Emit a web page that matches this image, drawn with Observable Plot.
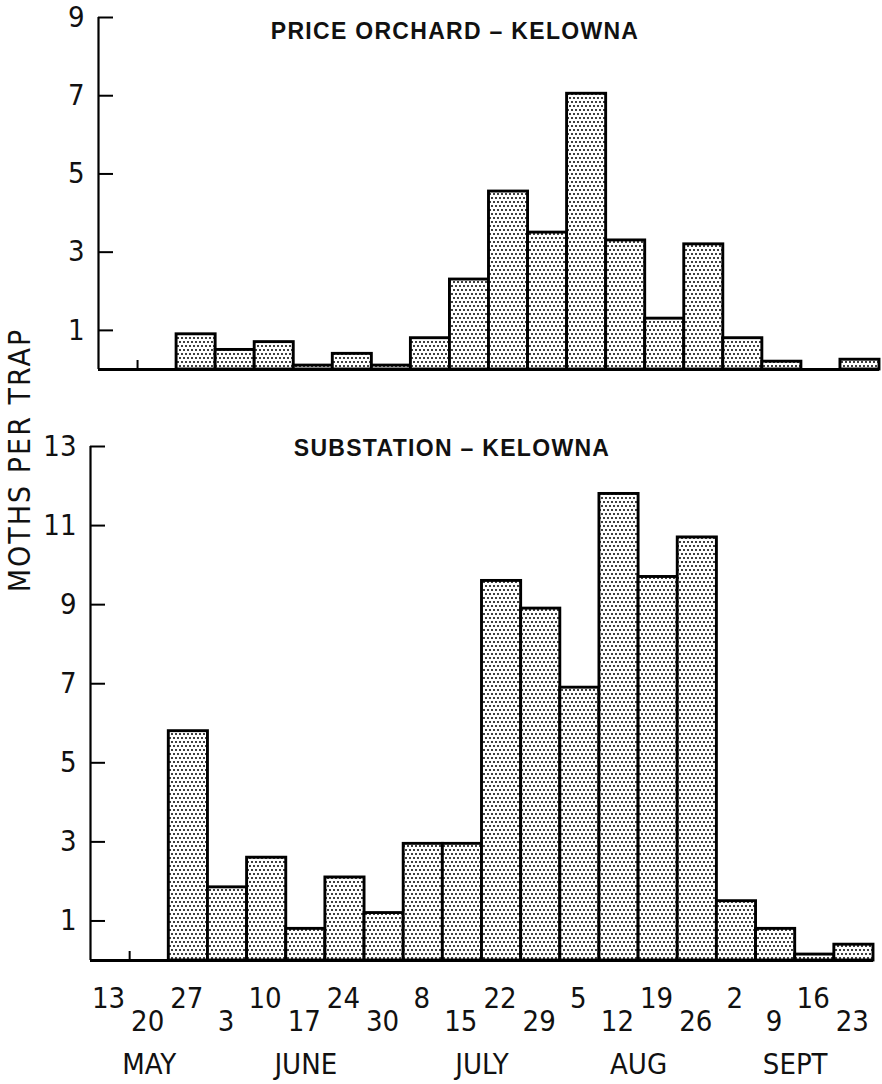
<!DOCTYPE html>
<html><head><meta charset="utf-8">
<script src="https://cdn.jsdelivr.net/npm/d3@7"></script>
<script src="https://cdn.jsdelivr.net/npm/@observablehq/plot@0.6"></script>
<style>
body{margin:0;background:#fff;}
#wrap{position:relative;width:882px;height:1084px;overflow:hidden;background:#fff;color:#111;font-family:"Liberation Sans Narrow","DejaVu Sans Condensed",sans-serif;}
.title{position:absolute;width:600px;text-align:center;font-family:"Liberation Sans","DejaVu Sans",sans-serif;font-weight:bold;font-size:23px;letter-spacing:1.3px;line-height:1;white-space:nowrap;}
#ylab{position:absolute;left:20px;top:460px;transform:translate(-50%,-50%) rotate(-90deg);white-space:nowrap;font-size:30px;letter-spacing:2px;line-height:1;}
.plot{position:absolute;left:0;}
</style></head>
<body><div id="wrap"></div>
<script>
// ---- data ----
const weeks = ["13","20","27","3","10","17","24","30","8","15","22","29","5","12","19","26","2","9","16","23"];
const months = ["MAY","MAY","MAY","JUNE","JUNE","JUNE","JUNE","JUNE","JULY","JULY","JULY","JULY","AUG","AUG","AUG","AUG","SEPT","SEPT","SEPT","SEPT"];
const priceOrchard = [null,null,0.9,0.5,0.7,0.1,0.4,0.1,0.8,2.3,4.55,3.5,7.05,3.3,1.3,3.2,0.8,0.2,0,0.25];
const substation   = [null,null,5.8,1.85,2.6,0.8,2.1,1.2,2.95,2.95,9.6,8.9,6.9,11.8,9.7,10.7,1.5,0.8,0.15,0.4];
const yTicksTop = [1,3,5,7,9];
const yTicksBottom = [1,3,5,7,9,11,13];
const titleTop = "PRICE ORCHARD – KELOWNA";
const titleBottom = "SUBSTATION – KELOWNA";
const yLabel = "MOTHS PER TRAP";

const FONT = '"Liberation Sans Narrow","DejaVu Sans Condensed",sans-serif';
const wrap = document.getElementById("wrap");

function addPattern(svg, id){
  const ns = "http://www.w3.org/2000/svg";
  const defs = document.createElementNS(ns, "defs");
  defs.innerHTML = `<pattern id="${id}" width="8" height="8" patternUnits="userSpaceOnUse">
    <rect width="8" height="8" fill="#fff"/>
    <circle cx="2" cy="2" r="1" fill="#000"/><circle cx="6" cy="2" r="1" fill="#000"/>
    <circle cx="0" cy="6" r="1" fill="#000"/><circle cx="4" cy="6" r="1" fill="#000"/><circle cx="8" cy="6" r="1" fill="#000"/>
  </pattern>`;
  svg.insertBefore(defs, svg.firstChild);
}

function panel({values, ticks, ymax, height, marginTop, marginBottom, marginLeft, marginRight, pid, withDates}){
  const width = 882;
  const frameW = width - marginLeft - marginRight;
  const frameH = height - marginTop - marginBottom;
  const rows = weeks.map((w, i) => ({i, w, m: months[i], v: values[i]})).filter(d => d.v > 0);
  const all = weeks.map((w, i) => ({i, w, m: months[i]}));
  const monthRows = Array.from(d3.group(all, d => d.m), ([m, g]) => ({m, c: (d3.min(g, d => d.i) + d3.max(g, d => d.i) + 1) / 2}));
  const marks = [
    Plot.rectY(rows, {x1: "i", x2: d => d.i + 1, y: "v", fill: `url(#${pid})`, stroke: "#000", strokeWidth: 2.9}),
    Plot.ruleY([0], {stroke: "#000", strokeWidth: 2.8}),
    Plot.ruleX([0], {stroke: "#000", strokeWidth: 2.2}),
    Plot.tickY(ticks, {y: d => d, insetRight: frameW - 15, stroke: "#000", strokeWidth: 2}),
    Plot.text(ticks, {y: d => d, text: d => String(d), frameAnchor: "left", textAnchor: "end", dx: -14, fontSize: 29, fontFamily: FONT, fill: "#111"}),
    Plot.tickX([1], {x: d => d, insetTop: frameH - 9, stroke: "#000", strokeWidth: 2})
  ];
  if (withDates) {
    marks.push(
      Plot.text(all.filter(d => d.i % 2 === 0), {x: "i", text: "w", frameAnchor: "bottom", dx: 18, dy: 38, lineAnchor: "middle", fontSize: 29, fontFamily: FONT, fill: "#111"}),
      Plot.text(all.filter(d => d.i % 2 === 1), {x: "i", text: "w", frameAnchor: "bottom", dx: 18, dy: 61, lineAnchor: "middle", fontSize: 29, fontFamily: FONT, fill: "#111"}),
      Plot.text(monthRows, {x: "c", text: "m", frameAnchor: "bottom", dy: 104, lineAnchor: "middle", fontSize: 29, fontFamily: FONT, fill: "#111", letterSpacing: 1})
    );
  }
  const svg = Plot.plot({
    width, height, marginTop, marginBottom, marginLeft, marginRight,
    x: {domain: [0, weeks.length], axis: null},
    y: {domain: [0, ymax], axis: null},
    style: {background: "transparent", overflow: "visible"},
    marks
  });
  addPattern(svg, pid);
  svg.classList.add("plot");
  return svg;
}

const p1 = panel({values: priceOrchard, ticks: yTicksTop, ymax: 9, height: 400, marginTop: 17, marginBottom: 31, marginLeft: 98, marginRight: 3, pid: "stip1", withDates: false});
p1.style.top = "0px";
wrap.appendChild(p1);

const p2 = panel({values: substation, ticks: yTicksBottom, ymax: 13, height: 684, marginTop: 46, marginBottom: 124, marginLeft: 90, marginRight: 9, pid: "stip2", withDates: true});
p2.style.top = "400px";
wrap.appendChild(p2);

function addDiv(cls, text, css){
  const d = document.createElement("div");
  if (cls) d.className = cls;
  d.textContent = text;
  Object.assign(d.style, css);
  wrap.appendChild(d);
  return d;
}
addDiv("title", titleTop, {left: (455 - 300) + "px", top: "20px"});
addDiv("title", titleBottom, {left: (452 - 300) + "px", top: "437px"});
const yl = addDiv("", yLabel, {});
yl.id = "ylab";
</script>
</body></html>
